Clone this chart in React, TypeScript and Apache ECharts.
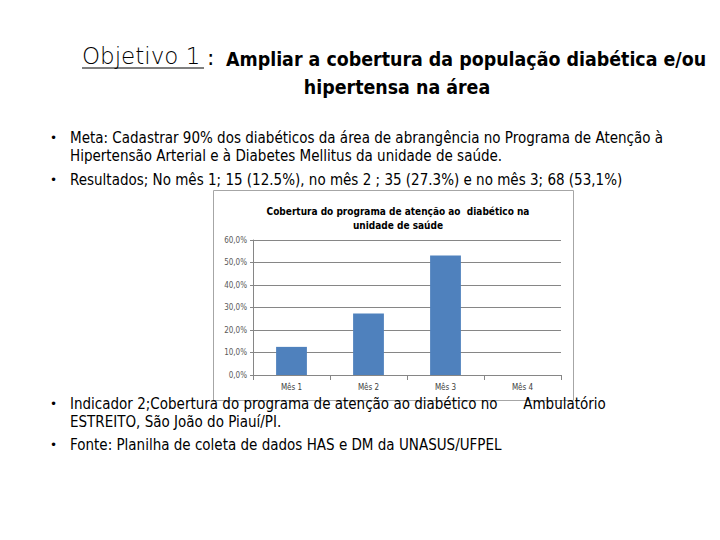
import React, { useEffect, useRef } from "react";
import * as echarts from "echarts";

const categories = ["Mês 1", "Mês 2", "Mês 3", "Mês 4"];
const coverage = [12.5, 27.3, 53.1, null];
const yTicks = [0, 10, 20, 30, 40, 50, 60];

const chartTitle = "Cobertura do programa de atenção ao  diabético na\nunidade de saúde";
const bulletLines = [
  { y: 138, text: "Meta: Cadastrar 90% dos diabéticos da área de abrangência no Programa de Atenção à", bullet: true },
  { y: 156, text: "Hipertensão Arterial e à Diabetes Mellitus da unidade de saúde.", bullet: false },
  { y: 180, text: "Resultados; No mês 1; 15 (12.5%), no mês 2 ; 35 (27.3%) e no mês 3; 68 (53,1%)", bullet: true },
  { y: 404, text: "Indicador 2;Cobertura do programa de atenção ao diabético no      Ambulatório", bullet: true },
  { y: 422, text: "ESTREITO, São João do Piauí/PI.", bullet: false },
  { y: 445, text: "Fonte: Planilha de coleta de dados HAS e DM da UNASUS/UFPEL", bullet: true },
];

const bodyFont = "'Liberation Sans Narrow', 'DejaVu Sans Condensed', sans-serif";

export default function App() {
  const ref = useRef<HTMLDivElement>(null);
  useEffect(() => {
    const chart = echarts.init(ref.current!, null, { renderer: "svg" });
    const graphics: any[] = [
      {
        type: "rect",
        shape: { x: 213.5, y: 190.5, width: 360, height: 210 },
        style: { fill: "#fff", stroke: "#a6a6a6", lineWidth: 1 },
        z: -10,
      },
      {
        type: "text",
        x: 82,
        y: 56,
        style: { text: "Objetivo 1", font: "300 23px 'DejaVu Sans', sans-serif", fill: "#000", textVerticalAlign: "middle" },
      },
      {
        type: "line",
        shape: { x1: 82, y1: 68, x2: 204, y2: 68 },
        style: { stroke: "#000", lineWidth: 1.2 },
      },
      {
        type: "text",
        x: 207,
        y: 57,
        style: { text: ":", font: "22px 'DejaVu Sans', sans-serif", fill: "#000", textVerticalAlign: "middle" },
      },
      {
        type: "text",
        x: 226,
        y: 59,
        style: { text: "Ampliar a cobertura da população diabética e/ou", font: "bold 19.4px " + bodyFont, fill: "#000", textVerticalAlign: "middle" },
      },
      {
        type: "text",
        x: 397,
        y: 87,
        style: { text: "hipertensa na área", font: "bold 19.4px " + bodyFont, fill: "#000", textAlign: "center", textVerticalAlign: "middle" },
      },
    ];
    bulletLines.forEach((l) => {
      if (l.bullet) {
        graphics.push({
          type: "text",
          x: 50,
          y: l.y,
          style: { text: "•", font: "12px 'DejaVu Sans', sans-serif", fill: "#000", textVerticalAlign: "middle" },
        });
      }
      graphics.push({
        type: "text",
        x: 70,
        y: l.y,
        style: { text: l.text, font: "15px " + bodyFont, fill: "#000", textVerticalAlign: "middle" },
      });
    });

    chart.setOption({
      animation: false,
      backgroundColor: "#fff",
      title: {
        text: chartTitle,
        left: 393,
        top: 199,
        textAlign: "center",
        textStyle: { fontSize: 10, fontWeight: "bold", fontFamily: bodyFont, color: "#000", lineHeight: 14 },
      },
      grid: { left: 253, top: 240, width: 308, height: 135, containLabel: false },
      xAxis: {
        type: "category",
        data: categories,
        axisLine: { lineStyle: { color: "#868686" } },
        axisTick: { show: true, alignWithLabel: false, lineStyle: { color: "#868686" } },
        axisLabel: { fontSize: 8, color: "#404040", fontFamily: bodyFont, margin: 8 },
      },
      yAxis: {
        type: "value",
        min: yTicks[0],
        max: yTicks[yTicks.length - 1],
        interval: 10,
        axisLine: { show: true, lineStyle: { color: "#868686" } },
        axisTick: { show: true, lineStyle: { color: "#868686" }, inside: false, length: 3 },
        splitLine: { lineStyle: { color: "#868686" } },
        axisLabel: {
          fontSize: 8,
          color: "#595959",
          fontFamily: bodyFont,
          margin: 6,
          formatter: (v: number) => v.toFixed(1).replace(".", ",") + "%",
        },
      },
      series: [
        {
          type: "bar",
          data: coverage,
          barWidth: "40%",
          itemStyle: { color: "#4f81bd" },
        },
      ],
      graphic: graphics,
    });
    return () => chart.dispose();
  }, []);
  return (
    <div
      ref={ref}
      style={{ position: "fixed", left: 0, top: 0, width: 720, height: 540 }}
    />
  );
}
